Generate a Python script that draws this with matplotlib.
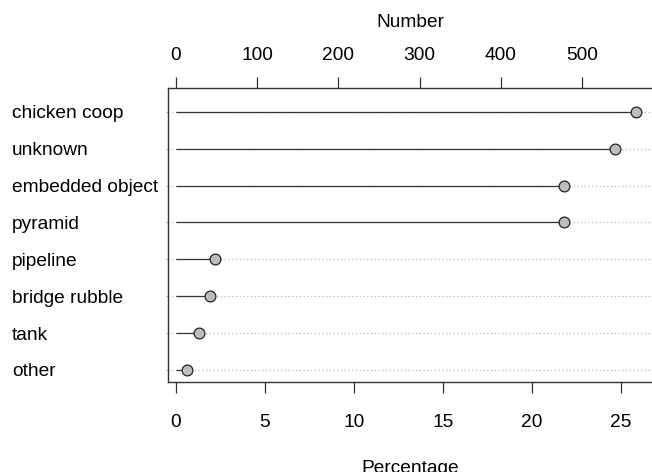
import matplotlib
matplotlib.use("Agg")
import matplotlib.pyplot as plt
import numpy as np

categories = ["chicken coop", "unknown", "embedded object", "pyramid",
              "pipeline", "bridge rubble", "tank", "other"]
percentages = [25.84, 24.66, 21.8, 21.8, 2.19, 1.9, 1.31, 0.6]
total_count = 2192
pct_ticks = [0, 5, 10, 15, 20, 25]
num_ticks = [0, 100, 200, 300, 400, 500]

plt.rcParams['font.family'] = ['Liberation Sans', 'DejaVu Sans']
fs = 13.8

fig = plt.figure(figsize=(6.52, 4.72), dpi=100)
ax = fig.add_axes([168/652, 1-382/472, 1-168/652, (382-88)/472])

n = len(categories)
ypos = np.arange(n, 0, -1)

for y in ypos:
    ax.axhline(y, color='#b5b5b5', linestyle=(0, (1, 2)), linewidth=0.9, zorder=1)
ax.hlines(ypos, 0, percentages, color='#333333', linewidth=0.9, zorder=2)
ax.scatter(percentages, ypos, s=60, facecolor='#bdbdbd', edgecolor='#222222',
           linewidth=0.9, zorder=3)

ax.set_xlim(-0.45, 26.74)
ax.set_ylim(0.67, 8.65)

ax.set_yticks(ypos)
ax.set_yticklabels(categories, fontsize=fs, ha='left')
ax.tick_params(axis='y', length=1.5, color='#aaaaaa', pad=110.8)

ax.set_xticks(pct_ticks)
ax.tick_params(axis='x', length=8, width=0.9, color='#333333', pad=15, labelsize=fs)
ax.set_xlabel("Percentage", fontsize=fs, labelpad=21)

for s in ['left', 'top', 'bottom']:
    ax.spines[s].set_color('#333333')
    ax.spines[s].set_linewidth(1.0)
ax.spines['right'].set_visible(False)

sec = ax.secondary_xaxis('top', functions=(lambda p: p * total_count / 100.0,
                                           lambda c: c * 100.0 / total_count))
sec.set_xticks(num_ticks)
sec.tick_params(axis='x', length=8, width=0.9, color='#333333', pad=9, labelsize=fs)
sec.set_xlabel("Number", fontsize=fs, labelpad=15)
sec.spines['top'].set_visible(False)

fig.savefig("out.png", dpi=100)
